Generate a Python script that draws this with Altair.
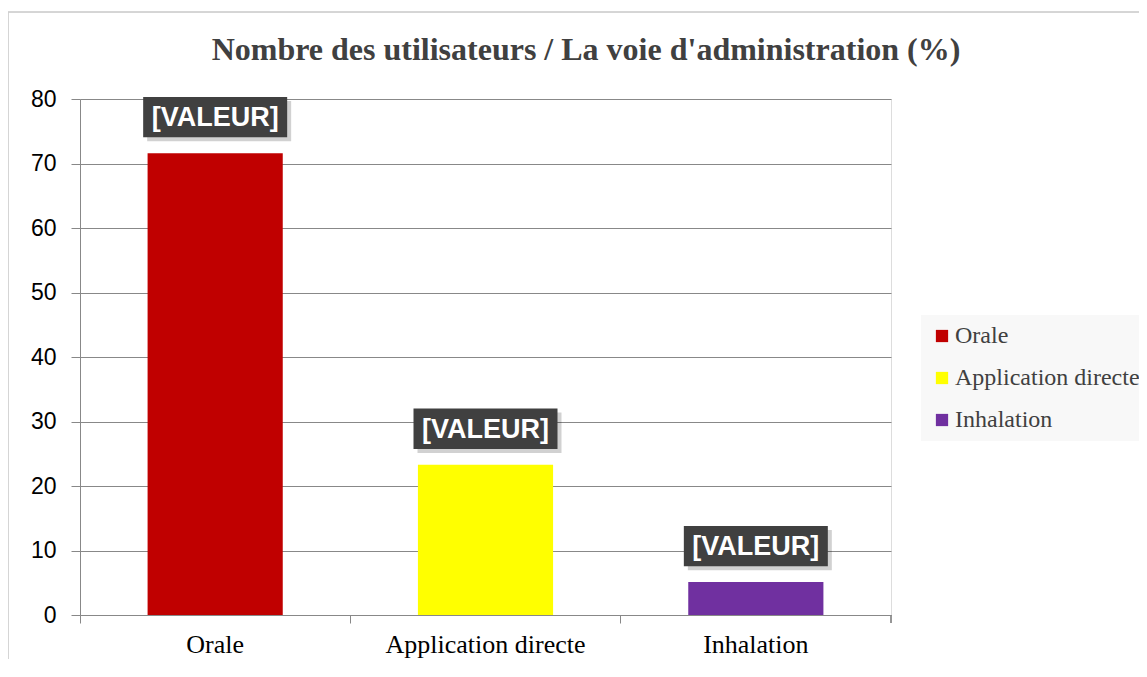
import altair as alt
import pandas as pd

categories = ["Orale", "Application directe", "Inhalation"]
values = [71.6, 23.3, 5.1]
labels = ["[VALEUR]", "[VALEUR]", "[VALEUR]"]
colors = ["#C00000", "#FFFF00", "#7030A0"]
y_ticks = [0, 10, 20, 30, 40, 50, 60, 70, 80]
title_text = "Nombre des utilisateurs / La voie d'administration (%)"

df = pd.DataFrame({"cat": categories, "val": values, "lab": labels})
df_title = pd.DataFrame({"t": [title_text]})

W, H = 811, 516
TOP = 91

xenc = alt.X("cat:N", sort=categories,
             scale=alt.Scale(paddingInner=0.5, paddingOuter=0.25),
             axis=alt.Axis(title=None, labelAngle=0, labelFont="Liberation Serif",
                           labelFontSize=26, labelColor="#000000", labelPadding=8,
                           labelLimit=400,
                           tickSize=8, tickColor="#888888", domainColor="#888888",
                           bandPosition=-0.5, grid=False))
yenc = alt.Y("val:Q", scale=alt.Scale(domain=[0, 80], nice=False),
             axis=alt.Axis(title=None, values=y_ticks, labelFont="Liberation Sans",
                           labelFontSize=23, labelColor="#000000", labelPadding=15,
                           tickSize=9, tickColor="#888888", domainColor="#888888",
                           gridColor="#888888", gridOpacity=1))

color = alt.Color("cat:N", sort=categories,
                  scale=alt.Scale(domain=categories, range=colors),
                  legend=alt.Legend(title=None, orient="none", legendX=841, legendY=216,
                                    symbolType="square", symbolSize=150, symbolStrokeWidth=0,
                                    labelFont="Liberation Serif", labelFontSize=24,
                                    labelLimit=400,
                                    labelColor="#404040", rowPadding=18, padding=9,
                                    fillColor="#f8f8f8", labelOffset=1))

bars = alt.Chart(df).mark_bar().encode(x=xenc, y=yenc, color=color)

shape = "M-1,-0.28L1,-0.28L1,0.28L-1,0.28Z"
shadow = alt.Chart(df).mark_point(
    shape=shape, filled=True, size=20736, color="#000000", opacity=0.18,
    yOffset=-32, xOffset=4
).encode(x=alt.X("cat:N", sort=categories), y="val:Q")

box = alt.Chart(df).mark_point(
    shape=shape, filled=True, size=20736,
    color="#404040", opacity=1, yOffset=-36
).encode(x=alt.X("cat:N", sort=categories), y="val:Q")

txt = alt.Chart(df).mark_text(
    font="Liberation Sans", fontWeight="bold", fontSize=27, color="#ffffff",
    yOffset=-35, baseline="middle", align="center"
).encode(x=alt.X("cat:N", sort=categories), y="val:Q", text="lab:N")

end_tick = alt.Chart(df).mark_rule(color="#888888").encode(
    x=alt.value(W), y=alt.value(H), y2=alt.value(H + 8))

frame = alt.Chart(df).mark_rect(fill=None, stroke="#d0d0d0", strokeWidth=1).encode(
    x=alt.value(-72), x2=alt.value(W + 300), y=alt.value(-(TOP - 4)), y2=alt.value(H + 100))

title = alt.Chart(df_title).mark_text(
    font="Liberation Serif", fontSize=32, fontWeight="bold", color="#404040",
    align="center", baseline="middle"
).encode(x=alt.value(506), y=alt.value(50 - (TOP + 8)), text="t:N")

chart = alt.layer(frame, bars, shadow, box, txt, end_tick, title).properties(
    width=W, height=H,
    autosize=alt.AutoSizeParams(type="none"),
    padding={"left": 72, "top": TOP, "right": 248, "bottom": 44},
).configure_view(stroke="transparent", strokeWidth=0).configure(background="#ffffff")

chart.save("out.html", embed_options={"renderer": "svg", "actions": False})
